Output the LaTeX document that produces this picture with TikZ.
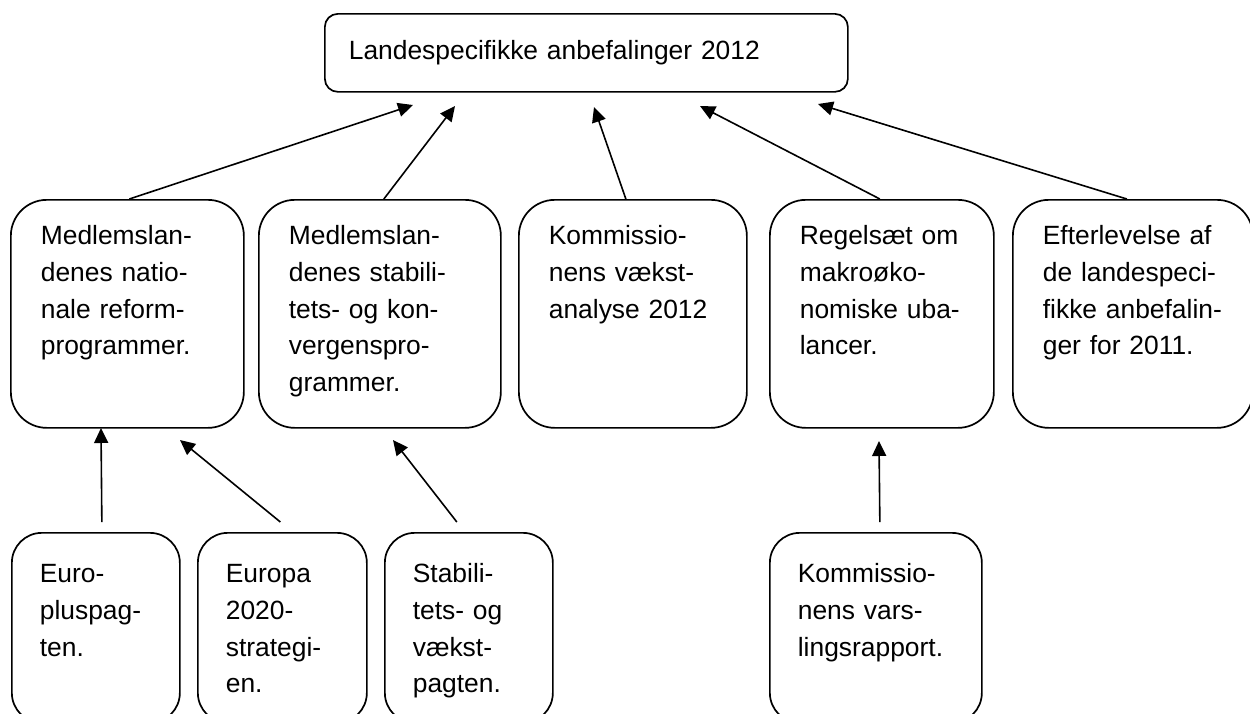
\documentclass[tikz,border=0pt]{standalone}
\usepackage{fontspec}
\setmainfont{Liberation Sans}
\usetikzlibrary{arrows.meta}

\begin{document}
\begin{tikzpicture}[x=1pt,y=-1pt,font=\fontsize{26.4}{36.7}\selectfont]
            \tikzstyle{box}=[draw=black,line width=1.7pt,anchor=north west,align=left,inner xsep=30pt,inner ysep=0pt,text height=45pt,rounded corners=36pt]
            \tikzstyle{small}=[box,inner xsep=28pt,text height=50pt,text depth=140pt,rounded corners=30pt]
            \tikzstyle{arr}=[-{Triangle[length=15pt,width=14pt]},line width=1.6pt]

                \clip (0,0) rectangle (1250,713);

                \node[box,rounded corners=13pt,inner xsep=24pt,text width=475pt,text height=46pt,text depth=32pt] (top) at (324,13) {Landespecifikke anbefalinger 2012};

                \node[box,text width=173pt,text depth=183pt] (M-1) at (10,199) {Medlemslan-\\denes natio-\\nale reform-\\programmer.};
                \node[box,text width=182pt,text depth=183pt] (M-2) at (258,199) {Medlemslan-\\denes stabili-\\tets- og kon-\\vergenspro-\\grammer.};
                \node[box,text width=168pt,text depth=183pt] (M-3) at (518,199) {Kommissio-\\nens vækst-\\analyse 2012};
                \node[box,text width=164pt,text depth=183pt] (M-4) at (769,199) {Regelsæt om\\makroøko-\\nomiske uba-\\lancer.};
                \node[box,text width=180pt,text depth=183pt] (M-5) at (1012,199) {Efterlevelse af\\de landespeci-\\fikke anbefalin-\\ger for 2011.};

                \node[small,text width=112pt] (B-1) at (11,532) {Euro-\\pluspag-\\ten.};
                \node[small,text width=113pt] (B-2) at (197,532) {Europa\\2020-\\strategi-\\en.};
                \node[small,text width=112pt] (B-3) at (384,532) {Stabili-\\tets- og\\vækst-\\pagten.};
                \node[small,text width=156pt] (B-4) at (769,532) {Kommissio-\\nens vars-\\lingsrapport.};

                % arrow tips below the boxes
                \coordinate (T-1) at (413,105);
                \coordinate (T-2) at (455,106);
                \coordinate (T-3) at (594,107);
                \coordinate (T-4) at (700,106);
                \coordinate (T-5) at (818,104);
                \coordinate (U-1) at (101,428);
                \coordinate (U-2) at (180,440);
                \coordinate (U-3) at (393,440);
                \coordinate (U-4) at (879,441);

                \foreach \i/\dx in {1/2, 2/4, 3/-7, 4/-2, 5/-6}
                    \draw[arr] ([xshift=\dx pt]M-\i.north) -- (T-\i);
                \foreach \i/\dx in {1/6, 2/-2, 3/-12, 4/4}
                    \draw[arr] ([xshift=\dx pt,yshift=10pt]B-\i.north) -- (U-\i);
        \end{tikzpicture}
\end{document}
